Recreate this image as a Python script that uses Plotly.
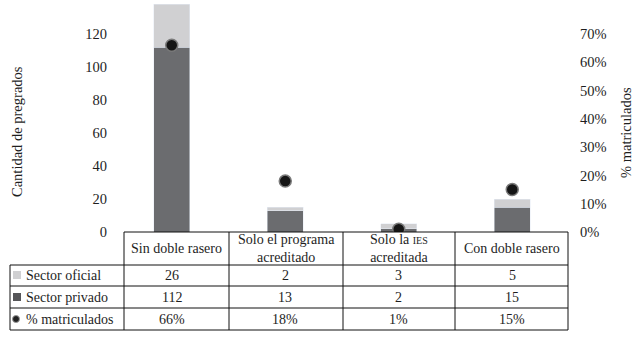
import plotly.graph_objects as go

# ---------------- data ----------------
categories = ["Sin doble rasero", "Solo el programa acreditado",
              "Solo la IES acreditada", "Con doble rasero"]
header_labels = ["Sin doble rasero",
                 "Solo el programa<br>acreditado",
                 "Solo la <span style='font-size:10px'>IES</span><br>acreditada",
                 "Con doble rasero"]
sector_oficial = [26, 2, 3, 5]
sector_privado = [112, 13, 2, 15]
pct_matriculados = [0.66, 0.18, 0.01, 0.15]
left_ticks = [0, 20, 40, 60, 80, 100, 120]
right_ticks = [0, 0.1, 0.2, 0.3, 0.4, 0.5, 0.6, 0.7]
row_labels = ["Sector oficial", "Sector privado", "% matriculados"]

# ---------------- layout geometry ----------------
W, H = 635, 337
ML, MR, MT, MB = 115, 66, 1, 105
PW, PH = W - ML - MR, H - MT - MB
FONT = "Liberation Serif"
LIGHT = "#d0d0d2"
DARK = "#6b6c6f"
TXT = "#1e1e1e"


def px(x):
    return (x - ML) / PW


def py(y):
    return (H - MB - y) / PH


fig = go.Figure()
fig.add_trace(go.Bar(x=categories, y=sector_privado, marker_color=DARK,
                     width=0.32, name="Sector privado"))
fig.add_trace(go.Bar(x=categories, y=sector_oficial, marker_color=LIGHT,
                     width=0.32, name="Sector oficial"))
fig.add_trace(go.Scatter(x=categories, y=pct_matriculados, yaxis="y2",
                         mode="markers", name="% matriculados",
                         marker=dict(size=12, color="#151515",
                                     line=dict(width=1.5, color="#7a7a7a"))))

# ---------------- table ----------------
shapes = []
line = dict(color="#111", width=1)
col_x = [124, 229, 343, 455, 568]
top_y, head_y, r1, r2, bot = 232, 265, 286, 308, 330
shapes.append(dict(type="line", xref="paper", yref="paper", x0=px(124), x1=px(568),
                   y0=py(top_y), y1=py(top_y), line=line))
for yy in [head_y, r1, r2, bot]:
    shapes.append(dict(type="line", xref="paper", yref="paper", x0=px(10), x1=px(568),
                       y0=py(yy), y1=py(yy), line=line))
shapes.append(dict(type="line", xref="paper", yref="paper", x0=px(10), x1=px(10),
                   y0=py(head_y), y1=py(bot), line=line))
for xx in col_x:
    shapes.append(dict(type="line", xref="paper", yref="paper", x0=px(xx), x1=px(xx),
                       y0=py(top_y), y1=py(bot), line=line))
# legend swatches
shapes.append(dict(type="rect", xref="paper", yref="paper", x0=px(13), x1=px(21),
                   y0=py(279), y1=py(271), fillcolor=LIGHT, line=dict(width=0)))
shapes.append(dict(type="rect", xref="paper", yref="paper", x0=px(13), x1=px(21),
                   y0=py(301), y1=py(293), fillcolor="#555558", line=dict(width=0)))
shapes.append(dict(type="circle", xref="paper", yref="paper", x0=px(12.5), x1=px(19.5),
                   y0=py(322.5), y1=py(315.5), fillcolor="#222",
                   line=dict(width=1, color="#999")))

ann = []
row_y = [(head_y + r1) / 2, (r1 + r2) / 2, (r2 + bot) / 2]
for i, lab in enumerate(header_labels):
    ann.append(dict(x=px((col_x[i] + col_x[i + 1]) / 2), xref="paper",
                    y=py((top_y + head_y) / 2), yref="paper", text=lab,
                    showarrow=False, xanchor="center", yanchor="middle",
                    font=dict(family=FONT, size=14, color=TXT)))
for j, lab in enumerate(row_labels):
    ann.append(dict(x=px(24), xref="paper", y=py(row_y[j]), yref="paper", text=lab,
                    showarrow=False, xanchor="left", yanchor="middle",
                    font=dict(family=FONT, size=14, color=TXT)))
rows = [[str(v) for v in sector_oficial],
        [str(v) for v in sector_privado],
        ["%d%%" % round(v * 100) for v in pct_matriculados]]
for j, vals in enumerate(rows):
    for i, v in enumerate(vals):
        ann.append(dict(x=categories[i], xref="x", y=py(row_y[j]), yref="paper", text=v,
                        showarrow=False, xanchor="center", yanchor="middle",
                        font=dict(family=FONT, size=14, color=TXT)))
# axis titles
ann.append(dict(x=px(17), xref="paper", y=py(132), yref="paper",
                text="Cantidad de pregrados", textangle=-90, showarrow=False,
                xanchor="center", yanchor="middle",
                font=dict(family=FONT, size=14.5, color=TXT)))
ann.append(dict(x=px(626), xref="paper", y=py(133), yref="paper",
                text="% matriculados", textangle=-90, showarrow=False,
                xanchor="center", yanchor="middle",
                font=dict(family=FONT, size=14.5, color=TXT)))

fig.update_layout(
    width=W, height=H,
    margin=dict(l=ML, r=MR, t=MT, b=MB, autoexpand=False),
    barmode="stack", bargap=0.68,
    showlegend=False,
    plot_bgcolor="white", paper_bgcolor="white",
    font=dict(family=FONT, size=14, color=TXT),
    xaxis=dict(showticklabels=False, showgrid=False, zeroline=False,
               showline=False, ticks=""),
    yaxis=dict(range=[0, 140], tickvals=left_ticks, showgrid=False,
               zeroline=False, showline=False, ticks="", ticklabelstandoff=7,
               tickfont=dict(family=FONT, size=14.5, color=TXT)),
    yaxis2=dict(range=[0, 140 * 0.7 / 120], tickvals=right_ticks, tickformat=".0%",
                overlaying="y", side="right", showgrid=False, zeroline=False,
                showline=False, ticks="", ticklabelstandoff=10,
                tickfont=dict(family=FONT, size=14.5, color=TXT)),
    shapes=shapes,
    annotations=ann,
)
fig.write_html("out.html", config={"displayModeBar": False},
               post_script="document.body.style.margin='0';")
